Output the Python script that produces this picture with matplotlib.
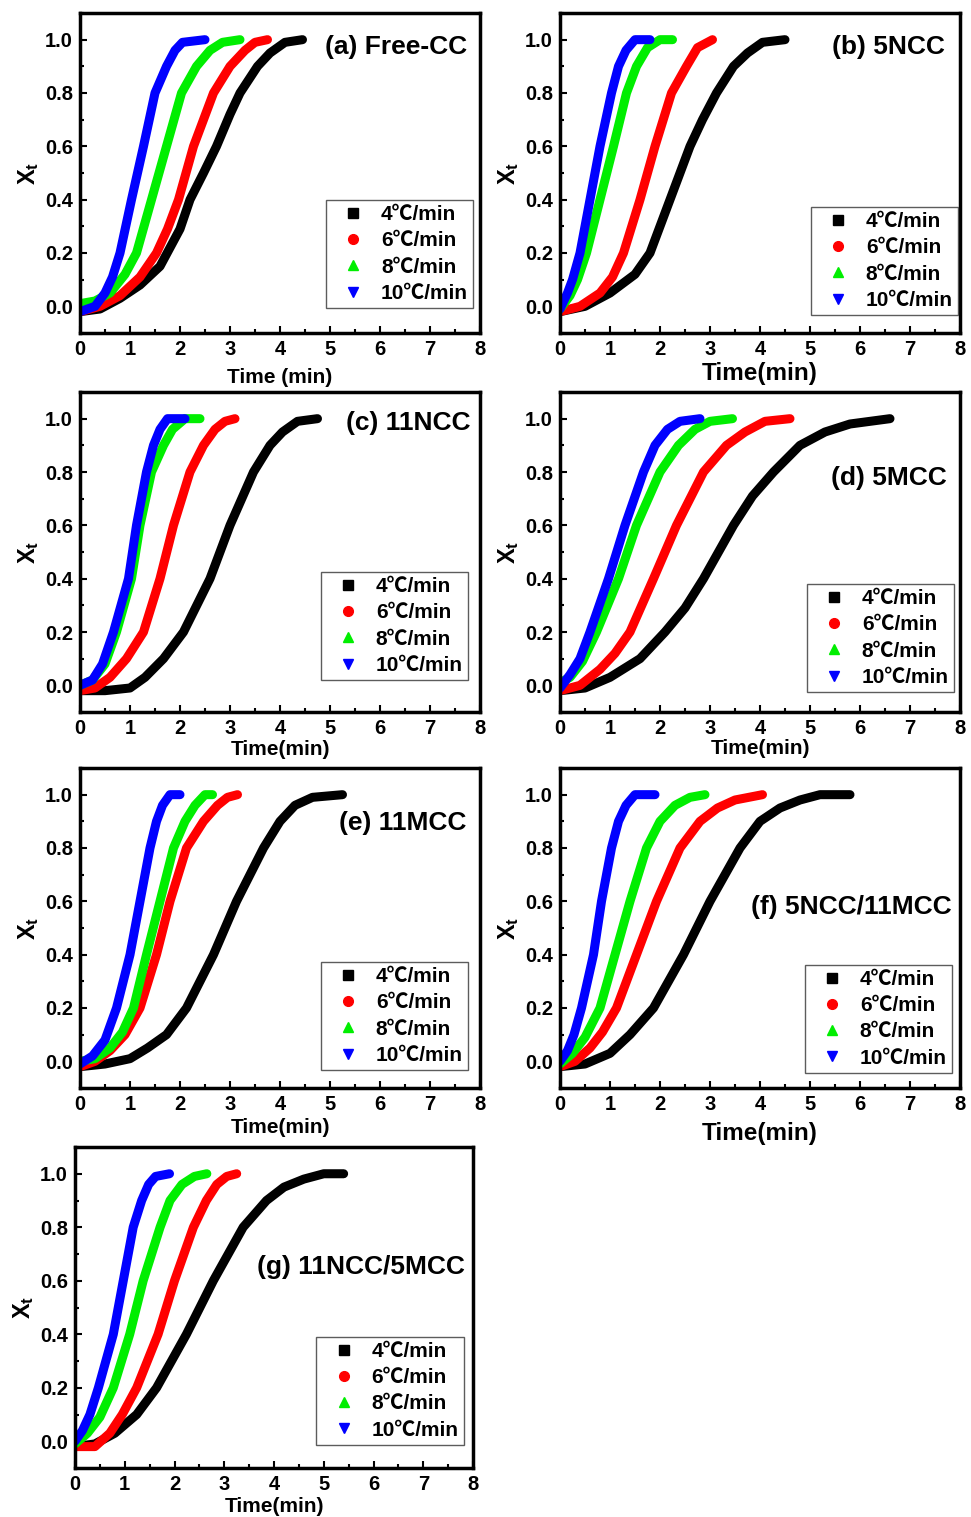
import matplotlib
matplotlib.use('Agg')
import matplotlib.pyplot as plt
from matplotlib.lines import Line2D
from matplotlib.ticker import MultipleLocator

plt.rcParams['font.family'] = ['Liberation Sans', 'Noto Sans CJK SC', 'DejaVu Sans']
plt.rcParams['font.weight'] = 'bold'
plt.rcParams['mathtext.fontset'] = 'custom'
plt.rcParams['mathtext.rm'] = 'Liberation Sans:bold'
plt.rcParams['mathtext.it'] = 'Liberation Sans:bold'
plt.rcParams['mathtext.bf'] = 'Liberation Sans:bold'

rates = ['4℃/min', '6℃/min', '8℃/min', '10℃/min']
colors = ['#000000', '#ff0000', '#00ee00', '#0000ff']
markers = ['s', 'o', '^', 'v']

# each panel: time lists and X_t lists for 4, 6, 8, 10 C/min
# (a) Free-CC
a_t = [[0, 0.4, 0.8, 1.2, 1.6, 2.0, 2.2, 2.47, 2.73, 3.0, 3.2, 3.55, 3.8, 4.1, 4.45],
       [0, 0.4, 0.8, 1.2, 1.53, 1.75, 1.97, 2.27, 2.47, 2.67, 3.0, 3.3, 3.5, 3.75],
       [0, 0.3, 0.6, 0.9, 1.13, 1.43, 1.73, 2.03, 2.33, 2.6, 2.85, 3.2],
       [0, 0.3, 0.5, 0.65, 0.8, 1.03, 1.27, 1.5, 1.73, 1.9, 2.05, 2.5]]
a_x = [[-0.02, -0.01, 0.03, 0.08, 0.15, 0.29, 0.4, 0.5, 0.6, 0.72, 0.8, 0.9, 0.95, 0.99, 1.0],
       [-0.02, 0.0, 0.04, 0.11, 0.2, 0.29, 0.4, 0.6, 0.7, 0.8, 0.9, 0.96, 0.99, 1.0],
       [0.01, 0.02, 0.05, 0.12, 0.2, 0.4, 0.6, 0.8, 0.9, 0.96, 0.99, 1.0],
       [-0.02, 0.0, 0.05, 0.11, 0.2, 0.4, 0.6, 0.8, 0.9, 0.96, 0.99, 1.0]]

# (b) 5NCC
b_t = [[0, 0.5, 1.0, 1.5, 1.8, 2.2, 2.6, 2.85, 3.13, 3.47, 3.75, 4.05, 4.5],
       [0, 0.4, 0.8, 1.05, 1.27, 1.6, 1.9, 2.23, 2.53, 2.75, 3.05],
       [0, 0.2, 0.35, 0.53, 0.8, 1.07, 1.33, 1.53, 1.75, 2.0, 2.25],
       [0, 0.15, 0.25, 0.4, 0.6, 0.8, 1.03, 1.17, 1.32, 1.5, 1.8]]
b_x = [[-0.02, 0.0, 0.05, 0.12, 0.2, 0.4, 0.6, 0.7, 0.8, 0.9, 0.95, 0.99, 1.0],
       [-0.02, 0.0, 0.05, 0.11, 0.2, 0.4, 0.6, 0.8, 0.9, 0.97, 1.0],
       [-0.01, 0.04, 0.1, 0.2, 0.4, 0.6, 0.8, 0.9, 0.97, 1.0, 1.0],
       [-0.01, 0.05, 0.1, 0.2, 0.4, 0.6, 0.8, 0.9, 0.96, 1.0, 1.0]]

# (c) 11NCC
c_t = [[0, 0.5, 1.0, 1.3, 1.67, 2.07, 2.6, 3.0, 3.47, 3.8, 4.05, 4.35, 4.75],
       [0, 0.3, 0.6, 0.93, 1.27, 1.6, 1.87, 2.2, 2.47, 2.7, 2.9, 3.1],
       [0, 0.25, 0.5, 0.73, 1.03, 1.2, 1.43, 1.67, 1.85, 2.1, 2.4],
       [0, 0.25, 0.45, 0.67, 0.97, 1.13, 1.33, 1.47, 1.6, 1.75, 2.1]]
c_x = [[-0.02, -0.02, -0.01, 0.03, 0.1, 0.2, 0.4, 0.6, 0.8, 0.9, 0.95, 0.99, 1.0],
       [-0.02, -0.01, 0.03, 0.1, 0.2, 0.4, 0.6, 0.8, 0.9, 0.96, 0.99, 1.0],
       [0.0, 0.02, 0.08, 0.2, 0.4, 0.6, 0.8, 0.9, 0.96, 1.0, 1.0],
       [0.0, 0.02, 0.08, 0.2, 0.4, 0.6, 0.8, 0.9, 0.96, 1.0, 1.0]]

# (d) 5MCC
d_t = [[0, 0.5, 1.0, 1.6, 2.1, 2.5, 2.87, 3.47, 3.85, 4.27, 4.8, 5.3, 5.8, 6.2, 6.6],
       [0, 0.4, 0.8, 1.1, 1.4, 1.87, 2.33, 2.87, 3.33, 3.7, 4.1, 4.6],
       [0, 0.2, 0.45, 0.73, 1.17, 1.53, 2.0, 2.37, 2.7, 3.0, 3.45],
       [0, 0.2, 0.4, 0.6, 0.97, 1.3, 1.67, 1.9, 2.15, 2.4, 2.8]]
d_x = [[-0.02, -0.01, 0.03, 0.1, 0.2, 0.29, 0.4, 0.6, 0.71, 0.8, 0.9, 0.95, 0.98, 0.99, 1.0],
       [-0.02, 0.0, 0.06, 0.12, 0.2, 0.4, 0.6, 0.8, 0.9, 0.95, 0.99, 1.0],
       [0.01, 0.03, 0.09, 0.2, 0.4, 0.6, 0.8, 0.9, 0.96, 0.99, 1.0],
       [-0.01, 0.04, 0.1, 0.2, 0.4, 0.6, 0.8, 0.9, 0.96, 0.99, 1.0]]

# (e) 11MCC
e_t = [[0, 0.5, 1.0, 1.35, 1.73, 2.13, 2.67, 3.13, 3.67, 4.0, 4.3, 4.65, 5.25],
       [0, 0.3, 0.6, 0.9, 1.2, 1.53, 1.8, 2.13, 2.47, 2.75, 2.95, 3.15],
       [0, 0.3, 0.6, 0.85, 1.07, 1.33, 1.6, 1.87, 2.1, 2.3, 2.5, 2.65],
       [0, 0.25, 0.5, 0.73, 1.0, 1.2, 1.4, 1.53, 1.65, 1.8, 2.0]]
e_x = [[-0.02, -0.01, 0.01, 0.05, 0.1, 0.2, 0.4, 0.6, 0.8, 0.9, 0.96, 0.99, 1.0],
       [-0.02, 0.0, 0.04, 0.1, 0.2, 0.4, 0.6, 0.8, 0.9, 0.96, 0.99, 1.0],
       [0.0, 0.01, 0.05, 0.11, 0.2, 0.4, 0.6, 0.8, 0.9, 0.96, 1.0, 1.0],
       [-0.01, 0.02, 0.08, 0.2, 0.4, 0.6, 0.8, 0.9, 0.96, 1.0, 1.0]]

# (f) 5NCC/11MCC
f_t = [[0, 0.5, 1.0, 1.4, 1.87, 2.47, 3.0, 3.6, 4.0, 4.4, 4.8, 5.2, 5.8],
       [0, 0.3, 0.6, 0.85, 1.13, 1.53, 1.93, 2.4, 2.8, 3.15, 3.5, 4.05],
       [0, 0.25, 0.5, 0.8, 1.1, 1.4, 1.73, 2.0, 2.3, 2.6, 2.9],
       [0, 0.15, 0.28, 0.43, 0.67, 0.83, 1.03, 1.17, 1.32, 1.5, 1.9]]
f_x = [[-0.02, -0.01, 0.03, 0.1, 0.2, 0.4, 0.6, 0.8, 0.9, 0.95, 0.98, 1.0, 1.0],
       [-0.02, 0.0, 0.05, 0.11, 0.2, 0.4, 0.6, 0.8, 0.9, 0.95, 0.98, 1.0],
       [-0.01, 0.03, 0.09, 0.2, 0.4, 0.6, 0.8, 0.9, 0.96, 0.99, 1.0],
       [0.0, 0.04, 0.1, 0.2, 0.4, 0.6, 0.8, 0.9, 0.96, 1.0, 1.0]]

# (g) 11NCC/5MCC
g_t = [[0, 0.4, 0.8, 1.24, 1.64, 2.24, 2.78, 3.38, 3.85, 4.2, 4.6, 5.0, 5.4],
       [0, 0.4, 0.7, 0.95, 1.24, 1.67, 2.0, 2.38, 2.64, 2.85, 3.05, 3.25],
       [0, 0.25, 0.5, 0.77, 1.1, 1.37, 1.71, 1.91, 2.15, 2.4, 2.65],
       [0, 0.15, 0.3, 0.47, 0.77, 0.97, 1.17, 1.34, 1.48, 1.62, 1.9]]
g_x = [[-0.02, -0.01, 0.03, 0.1, 0.2, 0.4, 0.6, 0.8, 0.9, 0.95, 0.98, 1.0, 1.0],
       [-0.02, -0.02, 0.03, 0.1, 0.2, 0.4, 0.6, 0.8, 0.9, 0.96, 0.99, 1.0],
       [-0.01, 0.03, 0.09, 0.2, 0.4, 0.6, 0.8, 0.9, 0.96, 0.99, 1.0],
       [0.0, 0.04, 0.1, 0.2, 0.4, 0.6, 0.8, 0.9, 0.96, 0.99, 1.0]]

W, H = 971, 1517
fig = plt.figure(figsize=(W / 100, H / 100), dpi=100)

# (title, t, x, axes px box [left, top, right, bottom], title pos, legend anchor,
#  xlabel, xlabel size, xlabel pad)
panels = [
    ('(a) Free-CC', a_t, a_x, [80, 13, 480, 333], (0.968, 0.894), (0.983, 0.078), 'Time (min)', 15, 6.5),
    ('(b) 5NCC', b_t, b_x, [560, 13, 960, 333], (0.962, 0.894), (0.995, 0.056), 'Time(min)', 17.5, 2.5),
    ('(c) 11NCC', c_t, c_x, [80, 392, 480, 712], (0.975, 0.903), (0.97, 0.10), 'Time(min)', 15, 1.5),
    ('(d) 5MCC', d_t, d_x, [560, 392, 960, 712], (0.967, 0.731), (0.985, 0.062), 'Time(min)', 15, 0.5),
    ('(e) 11MCC', e_t, e_x, [80, 768, 480, 1088], (0.967, 0.828), (0.97, 0.056), 'Time(min)', 15, 3),
    ('(f) 5NCC/11MCC', f_t, f_x, [560, 768, 960, 1088], (0.98, 0.566), (0.98, 0.047), 'Time(min)', 17.5, 5.5),
    ('(g) 11NCC/5MCC', g_t, g_x, [75, 1147, 473, 1468], (0.98, 0.626), (0.977, 0.072), 'Time(min)', 15, 2),
]

for title, ts, xs, box, tpos, lpos, xlab, xls, xlp in panels:
    l, t, r, b = box
    ax = fig.add_axes([l / W, 1 - b / H, (r - l) / W, (b - t) / H])
    for k in range(4):
        ax.plot(ts[k], xs[k], color=colors[k], lw=6.5, solid_capstyle='round',
                solid_joinstyle='round')
    ax.set_xlim(0, 8)
    ax.set_ylim(-0.1, 1.1)
    ax.xaxis.set_major_locator(MultipleLocator(1))
    ax.xaxis.set_minor_locator(MultipleLocator(0.5))
    ax.yaxis.set_minor_locator(MultipleLocator(0.1))
    ax.set_yticks([0, 0.2, 0.4, 0.6, 0.8, 1.0])
    ax.set_yticklabels(['0.0', '0.2', '0.4', '0.6', '0.8', '1.0'])
    ax.tick_params(which='both', direction='in', width=1.5, labelsize=14.5, pad=5)
    ax.tick_params(which='major', length=5)
    ax.tick_params(which='minor', length=3)
    for lab in ax.get_xticklabels() + ax.get_yticklabels():
        lab.set_fontweight('bold')
    for s in ax.spines.values():
        s.set_linewidth(2.5)
    ax.set_xlabel(xlab, fontsize=xls, fontweight='bold', labelpad=xlp)
    ax.set_ylabel(r'$\mathbf{X_t}$', fontsize=17, labelpad=3)
    ax.text(tpos[0], tpos[1], title, transform=ax.transAxes, ha='right',
            va='center', fontsize=19, fontweight='bold')
    handles = [Line2D([], [], ls='none', marker=markers[k], color=colors[k],
                      markersize=7) for k in range(4)]
    leg = ax.legend(handles, rates, loc='lower right', bbox_to_anchor=lpos,
                    fontsize=15, frameon=True, fancybox=False, edgecolor='#333333',
                    handlelength=2.1, handletextpad=0.3, labelspacing=0.35,
                    borderpad=0.25, borderaxespad=0)
    leg.get_frame().set_linewidth(1.0)

fig.savefig('out.png', dpi=100)
